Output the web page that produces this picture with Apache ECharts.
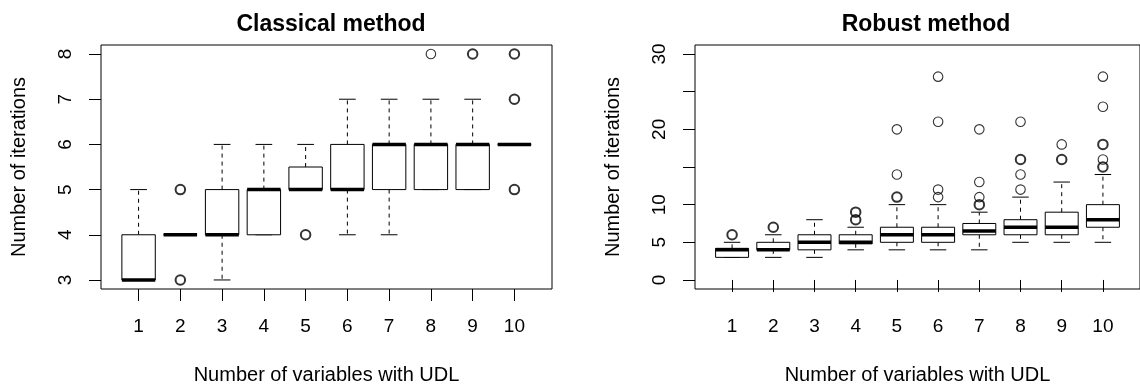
<!DOCTYPE html>
<html>
<head>
<meta charset="utf-8">
<script src="https://cdn.jsdelivr.net/npm/echarts@6/dist/echarts.min.js"></script>
<style>
html,body{margin:0;padding:0;background:#fff;}
#c{width:1140px;height:390px;}
</style>
</head>
<body>
<div id="c"></div>
<script>
// ---- data ----
const categories = [1, 2, 3, 4, 5, 6, 7, 8, 9, 10];
const leftTitle = 'Classical method';
const rightTitle = 'Robust method';
const xTitle = 'Number of variables with UDL';
const yTitle = 'Number of iterations';
const leftTicks = [3, 4, 5, 6, 7, 8];
const rightTicks = [0, 5, 10, 15, 20, 25, 30];
const rightTickLabels = ['0', '5', '10', '', '20', '', '30'];

// [lower whisker, Q1, median, Q3, upper whisker]
const classicalStats = [
  [3, 3, 3, 4, 5],
  [4, 4, 4, 4, 4],
  [3, 4, 4, 5, 6],
  [4, 4, 5, 5, 6],
  [5, 5, 5, 5.5, 6],
  [4, 5, 5, 6, 7],
  [4, 5, 6, 6, 7],
  [5, 5, 6, 6, 7],
  [5, 5, 6, 6, 7],
  [6, 6, 6, 6, 6]
];
// [category, value, count]
const classicalOutliers = [
  [2, 3, 2], [2, 5, 2], [5, 4, 2], [8, 8, 1], [9, 8, 2],
  [10, 5, 2], [10, 7, 2], [10, 8, 2]
];

const robustStats = [
  [3, 3, 4, 4.2, 5],
  [3, 4, 4, 5, 6],
  [3, 4, 5, 6, 8],
  [4, 4.8, 5, 6, 7],
  [4, 5, 6, 7, 10],
  [4, 5, 6, 7, 10],
  [4, 6, 6.5, 7.5, 9],
  [5, 6, 7, 8, 11],
  [5, 6, 7, 9, 13],
  [5, 7, 8, 10, 14]
];
const robustOutliers = [
  [1, 6, 2], [2, 7, 2], [4, 8, 2], [4, 9, 2],
  [5, 11, 2], [5, 14, 1], [5, 20, 1],
  [6, 11, 1], [6, 12, 1], [6, 21, 1], [6, 27, 1],
  [7, 10, 2], [7, 11, 1], [7, 13, 1], [7, 20, 1],
  [8, 12, 1], [8, 14, 1], [8, 16, 2], [8, 21, 1],
  [9, 16, 2], [9, 18, 1],
  [10, 15, 2], [10, 16, 1], [10, 18, 2], [10, 23, 1], [10, 27, 1]
];

// ---- chart ----
const FONT = '"Liberation Sans", Arial, Helvetica, sans-serif';
const FS = 19;
const FS_NAME = 20;

function boxData(stats) {
  return stats.map((s, i) => [categories[i]].concat(s));
}

function renderBox(params, api) {
  const x = api.value(0);
  const lo = api.value(1), q1 = api.value(2), med = api.value(3), q3 = api.value(4), hi = api.value(5);
  const bw = api.size([0.8, 0])[0];
  const cw = bw / 2;
  const cx = api.coord([x, med])[0];
  const yLo = api.coord([x, lo])[1];
  const yQ1 = api.coord([x, q1])[1];
  const yMed = api.coord([x, med])[1];
  const yQ3 = api.coord([x, q3])[1];
  const yHi = api.coord([x, hi])[1];
  const thin = {stroke: '#000', lineWidth: 1, fill: null};
  const dashed = {stroke: '#000', lineWidth: 1, lineDash: [4, 4]};
  const children = [];
  if (hi > q3) {
    children.push({type: 'line', shape: {x1: cx, y1: yQ3, x2: cx, y2: yHi}, style: dashed});
  }
  if (lo < q1) {
    children.push({type: 'line', shape: {x1: cx, y1: yQ1, x2: cx, y2: yLo}, style: dashed});
  }
  children.push({type: 'line', shape: {x1: cx - cw / 2, y1: yHi, x2: cx + cw / 2, y2: yHi}, style: thin});
  children.push({type: 'line', shape: {x1: cx - cw / 2, y1: yLo, x2: cx + cw / 2, y2: yLo}, style: thin});
  children.push({type: 'rect', shape: {x: cx - bw / 2, y: yQ3, width: bw, height: yQ1 - yQ3},
    style: {stroke: '#000', lineWidth: 1, fill: '#fff'}});
  children.push({type: 'line', shape: {x1: cx - bw / 2, y1: yMed, x2: cx + bw / 2, y2: yMed},
    style: {stroke: '#000', lineWidth: 3.5}});
  return {type: 'group', children: children};
}

function xAxisFor(gi) {
  return {
    gridIndex: gi, type: 'value', min: 0.1, max: 10.9,
    axisLine: {show: false},
    axisTick: {show: true, length: 12, customValues: categories, lineStyle: {color: '#000'}},
    axisLabel: {show: true, customValues: categories, margin: 28, color: '#000', fontSize: FS, fontFamily: FONT},
    splitLine: {show: false},
    name: xTitle, nameLocation: 'middle', nameGap: 76,
    nameTextStyle: {color: '#000', fontSize: FS_NAME, fontFamily: FONT}
  };
}

function yAxisFor(gi, min, max, ticks, fmt) {
  return {
    gridIndex: gi, type: 'value', min: min, max: max,
    axisLine: {show: false},
    axisTick: {show: true, length: 12, customValues: ticks, lineStyle: {color: '#000'}},
    axisLabel: {show: true, customValues: ticks, rotate: 90, margin: 26, color: '#000',
      fontSize: FS, fontFamily: FONT, formatter: fmt},
    splitLine: {show: false},
    name: yTitle, nameLocation: 'middle', nameGap: 72, nameRotate: 90,
    nameTextStyle: {color: '#000', fontSize: FS_NAME, fontFamily: FONT}
  };
}

function outlierSeries(list, xi, yi) {
  return {
    type: 'scatter', xAxisIndex: xi, yAxisIndex: yi,
    symbol: 'circle', symbolSize: 9.5,
    data: list.map(o => ({value: [o[0], o[1]],
      itemStyle: {color: 'rgba(0,0,0,0)', borderColor: '#000', borderWidth: o[2] > 1 ? 2 : 1.1}})),
    silent: true, z: 5
  };
}

const chart = echarts.init(document.getElementById('c'), null, {renderer: 'canvas'});
chart.setOption({
  animation: false,
  backgroundColor: '#fff',
  textStyle: {fontFamily: FONT},
  title: [
    {text: leftTitle, left: 326, top: 8, textAlign: 'center',
      textStyle: {fontSize: 23, fontWeight: 'bold', color: '#000', fontFamily: FONT}},
    {text: rightTitle, left: 921, top: 8, textAlign: 'center',
      textStyle: {fontSize: 23, fontWeight: 'bold', color: '#000', fontFamily: FONT}}
  ],
  grid: [
    {left: 101, top: 45, width: 451, height: 249, show: true, borderColor: '#000', borderWidth: 1, backgroundColor: 'transparent', containLabel: false},
    {left: 695, top: 45, width: 451, height: 249, show: true, borderColor: '#000', borderWidth: 1, backgroundColor: 'transparent', containLabel: false}
  ],
  xAxis: [xAxisFor(0), xAxisFor(1)],
  yAxis: [
    yAxisFor(0, 2.8, 8.2, leftTicks, v => String(v)),
    yAxisFor(1, -1.2, 31.2, rightTicks, v => rightTickLabels[rightTicks.indexOf(v)] || '')
  ],
  series: [
    {type: 'custom', xAxisIndex: 0, yAxisIndex: 0, renderItem: renderBox,
      data: boxData(classicalStats), encode: {x: 0, y: [1, 2, 3, 4, 5]}, silent: true},
    outlierSeries(classicalOutliers, 0, 0),
    {type: 'custom', xAxisIndex: 1, yAxisIndex: 1, renderItem: renderBox,
      data: boxData(robustStats), encode: {x: 0, y: [1, 2, 3, 4, 5]}, silent: true},
    outlierSeries(robustOutliers, 1, 1)
  ]
});
</script>
</body>
</html>
